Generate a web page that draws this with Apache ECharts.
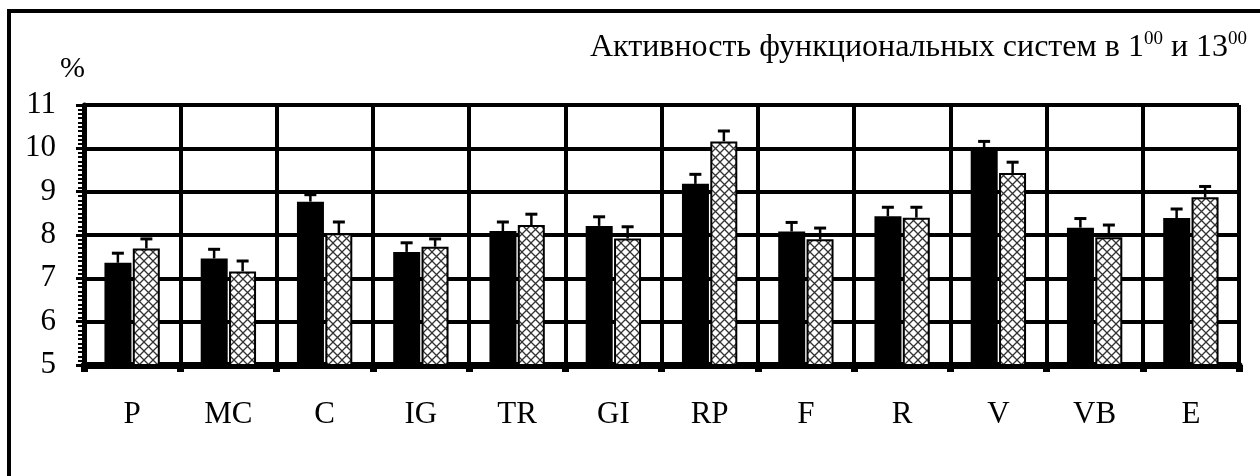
<!DOCTYPE html>
<html>
<head>
<meta charset="utf-8">
<script src="https://cdn.jsdelivr.net/npm/echarts@6/dist/echarts.min.js"></script>
<style>
  html, body { margin: 0; padding: 0; background: #fff; }
  #chart { width: 1260px; height: 476px; }
</style>
</head>
<body>
<div id="chart"></div>
<script>
// данные
var categories = ["P", "MC", "C", "IG", "TR", "GI", "RP", "F", "R", "V", "VB", "E"];
var values01 = [7.36, 7.46, 8.77, 7.61, 8.09, 8.21, 9.18, 8.08, 8.43, 10.03, 8.17, 8.39];
var errors01 = [0.22, 0.21, 0.16, 0.21, 0.21, 0.21, 0.22, 0.21, 0.21, 0.13, 0.21, 0.21];
var values13 = [7.69, 7.16, 8.04, 7.73, 8.23, 7.92, 10.16, 7.90, 8.40, 9.43, 7.95, 8.87];
var errors13 = [0.22, 0.24, 0.26, 0.18, 0.25, 0.27, 0.24, 0.26, 0.24, 0.25, 0.28, 0.25];
var yTicks = [5, 6, 7, 8, 9, 10, 11];

var FONT = "Liberation Serif";
var BAR_W = 27;
var GAP = 1.5;

function hatch() {
    //штриховка
    var c = document.createElement("canvas");
    c.width = 9;
    c.height = 9;
    var ctx = c.getContext("2d");
    ctx.fillStyle = "#fff";
    ctx.fillRect(0, 0, 9, 9);
    ctx.strokeStyle = "#333";
    ctx.lineWidth = 1.3;
    ctx.beginPath();
    ctx.moveTo(0, 0); ctx.lineTo(9, 9);
    ctx.moveTo(9, 0); ctx.lineTo(0, 9);
    ctx.stroke();
    return c;
}

function errorSeries(vals, errs, side) {
    var data = vals.map((v, i) => [i, v, v + errs[i]]);
    return {
        type: "custom",
        z: 5,
        data: data,
        renderItem: function (params, api) {
            var top = api.coord([api.value(0), api.value(2)]);
            var base = api.coord([api.value(0), api.value(1)]);
            var x = top[0] + side * (BAR_W + GAP) / 2;
            return {
                type: "group",
                children: [{
                    type: "line",
                    shape: { x1: x, y1: base[1], x2: x, y2: top[1] },
                    style: { stroke: "#000", lineWidth: 2.5 }
                }, {
                    type: "line",
                    shape: { x1: x - 6, y1: top[1], x2: x + 6, y2: top[1] },
                    style: { stroke: "#000", lineWidth: 3 }
                }]
            };
        }
    };
}

var myChart = echarts.init(document.getElementById("chart"));
var option = {
    animation: false,
    backgroundColor: "#fff",
    title: {
        text: "{a|Активность функциональных систем в 1}{s|00}{a| и 13}{s|00}",
        right: 8,
        top: 25,
        textStyle: {
            fontWeight: "normal",
            rich: {
                a: { fontFamily: FONT, fontSize: 32, fontWeight: "normal", color: "#000" },
                s: { fontFamily: FONT, fontSize: 19, fontWeight: "normal", color: "#000", verticalAlign: "top", padding: [0, 0, 16, 0] }
            }
        }
    },
    graphic: [{
        type: "polyline",
        shape: { points: [[9, 476], [9, 11], [1260, 11]] },
        style: { stroke: "#000", lineWidth: 4, fill: null }
    }, {
        type: "text",
        left: 60,
        top: 54,
        style: { text: "%", font: "30px " + FONT, fill: "#000" }
    }],
    grid: {
        left: 84,
        right: 21,
        top: 105,
        bottom: 111
    },
    xAxis: {
        type: "category",
        data: categories,
        axisLine: { lineStyle: { color: "#000", width: 7 } },
        axisTick: { show: true, length: 7, lineStyle: { color: "#000", width: 7 } },
        axisLabel: { fontFamily: FONT, fontSize: 31, color: "#000", margin: 34 },
        splitLine: { show: true, lineStyle: { color: "#000", width: 4 } }
    },
    yAxis: {
        type: "value",
        min: yTicks[0],
        max: yTicks[yTicks.length - 1],
        interval: 1,
        axisLine: { show: true, lineStyle: { color: "#000", width: 5 } },
        axisTick: { show: true, length: 8, lineStyle: { color: "#000", width: 3 } },
        minorTick: { show: true, splitNumber: 10, length: 6, lineStyle: { color: "#000", width: 2 } },
        axisLabel: { fontFamily: FONT, fontSize: 31, color: "#000", margin: 28 },
        splitLine: { show: true, lineStyle: { color: "#000", width: 4 } }
    },
    series: [{
        name: "1:00",
        type: "bar",
        data: values01,
        barWidth: BAR_W,
        barGap: "5%",
        z: 3,
        itemStyle: { color: "#000" }
    }, {
        name: "13:00",
        type: "bar",
        data: values13,
        barWidth: BAR_W,
        z: 3,
        itemStyle: {
            color: { image: hatch(), repeat: "repeat" },
            borderColor: "#000",
            borderWidth: 2
        }
    },
    errorSeries(values01, errors01, -1),
    errorSeries(values13, errors13, 1)
    ]
};
myChart.setOption(option);
</script>
</body>
</html>
